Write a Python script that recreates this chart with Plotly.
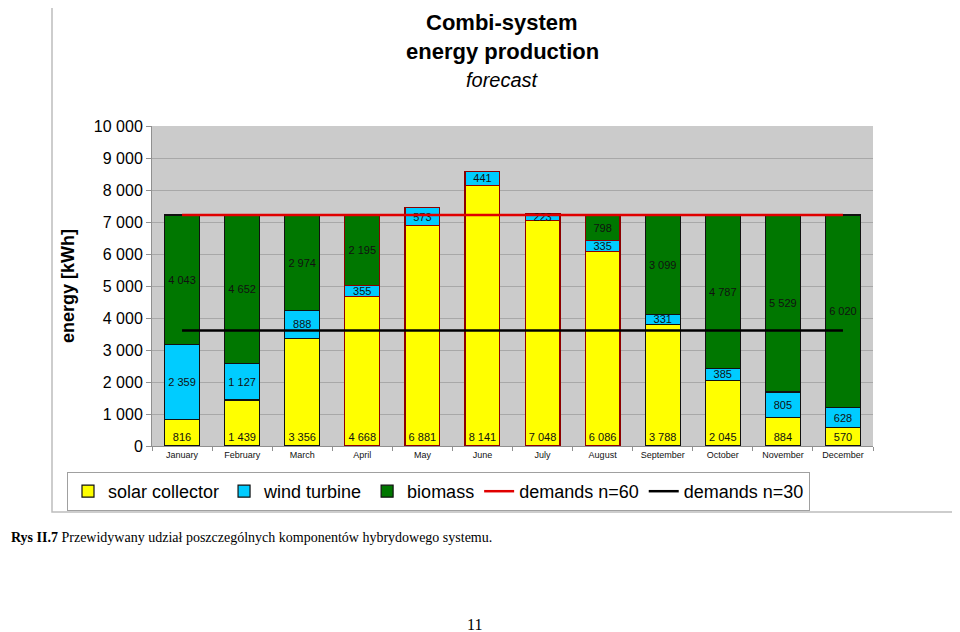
import plotly.graph_objects as go

months = ["January", "February", "March", "April", "May", "June", "July",
          "August", "September", "October", "November", "December"]
solar = [816, 1439, 3356, 4668, 6881, 8141, 7048, 6086, 3788, 2045, 884, 570]
wind = [2359, 1127, 888, 355, 573, 441, 223, 335, 331, 385, 805, 628]
biomass = [4043, 4652, 2974, 2195, None, None, None, 798, 3099, 4787, 5529, 6020]
demand60 = [7218] * 12
demand30 = [3609] * 12
surplus_months = ["April", "May", "June", "July", "August"]

OFF = 8  # page body margin offset
W, H = 960 - OFF, 632 - OFF
L, R, T, B = 152 - OFF, 873 - OFF, 126 - OFF, 446 - OFF  # plot area in figure px


def px(x):
    return (x - OFF - L) / (R - L)


def py(y):
    return (B - (y - OFF)) / (B - T)


edge = ["#8b0000" if m in surplus_months else "#111111" for m in months]
font_main = "Liberation Sans, Arial, sans-serif"
font_serif = "Liberation Serif, Times New Roman, serif"

fig = go.Figure()
fig.add_trace(go.Bar(
    x=months, y=solar, name="solar collector",
    marker=dict(color="#ffff00", line=dict(color=edge, width=1.2)),
    text=solar, texttemplate="%{y:,}", textposition="inside",
    insidetextanchor="start", textangle=0, constraintext="none",
    textfont=dict(size=11, color="#111111", family=font_main),
))
fig.add_trace(go.Bar(
    x=months, y=wind, name="wind turbine",
    marker=dict(color="#00ccff", line=dict(color=edge, width=1.2)),
    text=wind, texttemplate="%{y:,}", textposition="inside",
    insidetextanchor="middle", textangle=0, constraintext="none",
    textfont=dict(size=11, color="#111111", family=font_main),
))
fig.add_trace(go.Bar(
    x=months, y=biomass, name="biomass",
    marker=dict(color="#007700", line=dict(color=edge, width=1.2)),
    text=biomass, texttemplate="%{y:,}", textposition="inside",
    insidetextanchor="middle", textangle=0, constraintext="none",
    textfont=dict(size=11, color="#111111", family=font_main),
))
fig.add_trace(go.Scatter(
    x=months, y=demand60, name="demands n=60", mode="lines",
    line=dict(color="#e00000", width=2.5),
))
fig.add_trace(go.Scatter(
    x=months, y=demand30, name="demands n=30", mode="lines",
    line=dict(color="#000000", width=2.5),
))

shapes = [dict(type="rect", xref="paper", yref="paper",
               x0=px(52), x1=px(958), y0=py(512), y1=py(2),
               line=dict(color="#bdbdbd", width=1.5), fillcolor="rgba(0,0,0,0)",
               layer="below")]


def ann(text, x, y, size, family=font_main, xanchor="center"):
    return dict(text=text, x=px(x), y=py(y), xref="paper", yref="paper",
                xanchor=xanchor, yanchor="middle", showarrow=False,
                font=dict(size=size, color="#000", family=family))


annotations = [
    ann("<b>Combi-system</b>", 502, 22, 22),
    ann("<b>energy production</b>", 502, 51, 22),
    ann("<i>forecast</i>", 502, 80, 20),
    ann("<b>Rys II.7</b> Przewidywany udział poszczególnych komponentów hybrydowego systemu.",
        9, 537, 14, font_serif, "left"),
    ann("11", 474, 624, 16, font_serif),
]

fig.update_layout(
    width=W, height=H,
    margin=dict(l=L, r=W - R, t=T, b=H - B, pad=0),
    paper_bgcolor="white", plot_bgcolor="#cbcbcb",
    barmode="stack", bargap=0.42,
    separators=". ",
    font=dict(family=font_main, color="#000"),
    showlegend=True,
    legend=dict(orientation="h", x=px(67), y=py(472), xanchor="left", yanchor="top",
                font=dict(size=18, color="#000", family=font_main),
                bordercolor="#a0a0a0", borderwidth=1, bgcolor="white",
                traceorder="normal", itemwidth=30, tracegroupgap=0),
    shapes=shapes, annotations=annotations,
    xaxis=dict(type="category", tickfont=dict(size=9, color="#111"),
               showline=True, linecolor="#909090", linewidth=1,
               ticks="outside", tickson="boundaries", ticklen=4, tickcolor="#909090",
               showgrid=False, fixedrange=True),
    yaxis=dict(range=[0, 10000], dtick=1000, tickformat=",d",
               tickfont=dict(size=16, color="#000"),
               title=dict(text="<b>energy [kWh]</b>", font=dict(size=18, color="#000"), standoff=14),
               showline=True, linecolor="#909090", linewidth=1,
               ticks="outside", ticklen=5, tickcolor="#909090",
               gridcolor="#a8a8a8", gridwidth=1, zeroline=False, fixedrange=True),
)

fig.write_html("out.html")
